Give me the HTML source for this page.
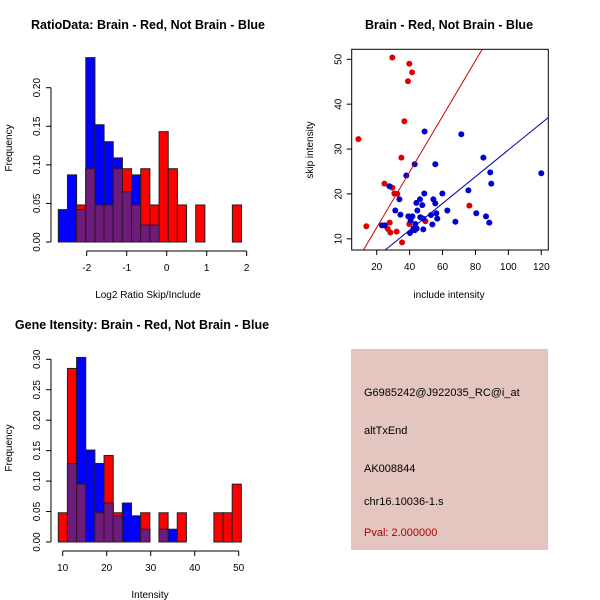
<!DOCTYPE html>
<html><head><meta charset="utf-8"><style>
body{margin:0;background:#fff}
svg{display:block;font-family:"Liberation Sans",sans-serif}
.t{font-weight:bold;font-size:12.5px}
.a{font-size:10px}
</style></head><body>
<svg id="c" width="600" height="600" xmlns="http://www.w3.org/2000/svg">
<rect width="600" height="600" fill="#fff"/>
<text class="t" x="148" y="29" text-anchor="middle">RatioData: Brain - Red, Not Brain - Blue</text>
<text class="t" x="449" y="29" text-anchor="middle">Brain - Red, Not Brain - Blue</text>
<text class="t" x="142" y="329" text-anchor="middle">Gene Itensity: Brain - Red, Not Brain - Blue</text>
<text class="a" x="148" y="298" text-anchor="middle">Log2 Ratio Skip/Include</text>
<text class="a" x="150" y="598" text-anchor="middle">Intensity</text>
<text class="a" transform="translate(12,148) rotate(-90)" text-anchor="middle">Frequency</text>
<text class="a" transform="translate(12,448) rotate(-90)" text-anchor="middle">Frequency</text>
<text class="a" x="449" y="298" text-anchor="middle">include intensity</text>
<text class="a" transform="translate(313,150) rotate(-90)" text-anchor="middle">skip intensity</text>
<g>
<rect x="351" y="349" width="197" height="201" fill="#e3c6c0"/>
<text x="364" y="396" font-size="11">G6985242@J922035_RC@i_at</text>
<text x="364" y="434" font-size="11">altTxEnd</text>
<text x="364" y="472" font-size="11">AK008844</text>
<text x="364" y="505" font-size="11">chr16.10036-1.s</text>
<text x="364" y="536" font-size="11" fill="#b00000">Pval: 2.000000</text>
</g>
</svg>
<script>
// Ratio histogram data
const ratioStart = -2.71, ratioBinW = 0.229;
const ratioBlue = [0.042,0.087,0.042,0.239,0.152,0.130,0.109,0.065,0.087,0.022,0.022,0,0,0,0,0,0,0,0,0];
const ratioRed  = [0,0,0.048,0.095,0.048,0.048,0.095,0.095,0.048,0.095,0.048,0.143,0.095,0.048,0,0.048,0,0,0,0.048];
const ratioXTicks = [-2,-1,0,1,2];
const ratioYTicks = [0,0.05,0.10,0.15,0.20];
const ratioYLabels = ["0.00","0.05","0.10","0.15","0.20"];
// Intensity histogram data
const intStart = 9.0, intBinW = 2.08;
const intBlue = [0,0.129,0.303,0.151,0.129,0.064,0.043,0.064,0.043,0.021,0,0.021,0.021,0,0,0,0,0,0,0];
const intRed  = [0.048,0.285,0.095,0,0.048,0.142,0.048,0,0,0.048,0,0.048,0,0.048,0,0,0,0.048,0.048,0.095];
const intXTicks = [10,20,30,40,50];
const intYTicks = [0,0.05,0.10,0.15,0.20,0.25,0.30];
const intYLabels = ["0.00","0.05","0.10","0.15","0.20","0.25","0.30"];
// Scatter data
const redX = [29.5,39.8,41.5,39.0,36.8,8.9,35.0,24.7,29.5,30.7,32.5,76.3,49.6,13.7,27.9,26.7,28.3,32.1,35.4,39.8];
const redY = [50.4,49.0,47.1,45.1,36.2,32.2,28.1,22.3,21.4,20.1,20.0,17.4,13.9,12.8,13.6,12.2,11.4,11.6,9.2,13.3];
const blueX = [49.1,71.4,43.1,55.6,84.8,120,89.0,89.6,38.0,27.7,33.8,48.9,59.9,75.7,46.3,54.4,44.1,55.6,47.7,31.3,44.7,62.9,34.4,80.5,86.4,39.2,41.7,46.5,48.3,53.0,56.2,56.8,40.6,67.8,88.4,23.2,24.9,43.5,53.8,42.3,44.3,48.3,43.1,40.2];
const blueY = [33.9,33.3,26.6,26.6,28.1,24.6,24.8,22.3,24.1,21.7,18.8,20.1,20.1,20.8,18.8,18.8,18.0,17.9,17.5,16.3,16.3,16.3,15.4,15.7,15.0,15.0,15.0,14.8,14.5,15.3,15.7,14.5,14.1,13.8,13.6,13.0,13.0,13.3,13.2,12.3,12.3,12.1,11.9,11.3];
const redFit = [0.1,0.62];   // intercept, slope
const blueFit = [0.0,0.298];
const scXTicks = [20,40,60,80,100,120];
const scYTicks = [10,20,30,40,50];

const svg = document.getElementById('c');
const NS = 'http://www.w3.org/2000/svg';
function mk(tag, attrs, parent){
  const e = document.createElementNS(NS, tag);
  for (const k in attrs) e.setAttribute(k, attrs[k]);
  (parent||svg).appendChild(e); return e;
}
function txt(x,y,s,anchor,rot){
  const t = mk('text',{x:x,y:y,'font-size':10,'text-anchor':anchor||'middle'});
  if (rot) t.setAttribute('transform','rotate(-90 '+x+' '+y+')');
  t.textContent = s; return t;
}

function hist(name, start, bw, blue, red, xs, x0, x1, y0, y1, ymax, xT, yT, yL, xAxisY, yAxisX){
  const X = v => x0 + (v - xs[0])/(xs[1]-xs[0])*(x1-x0);
  const Y = v => y0 - v/ymax*(y0-y1);
  const g = mk('g',{});
  
  
  for (let i=0;i<blue.length;i++){
    const a = X(start+i*bw), b = X(start+(i+1)*bw);
    const bv = blue[i], rv = red[i], mv = Math.min(bv, rv);
    if (bv>0){ const r = mk('rect',{x:a,y:Y(bv),width:b-a,height:Y(0)-Y(bv),fill:'#0000ff',stroke:'#202020','stroke-width':1},g);
        }
    if (rv>0){ const r = mk('rect',{x:a,y:Y(rv),width:b-a,height:Y(0)-Y(rv),fill:'#ff0000',stroke:'#202020','stroke-width':1},g);
        }
    if (mv>0){ const r = mk('rect',{x:a,y:Y(mv),width:b-a,height:Y(0)-Y(mv),fill:'#6e1c7c',stroke:'#3a1030','stroke-width':1},g);
        }
  }
  mk('line',{x1:X(xT[0]),x2:X(xT[xT.length-1]),y1:xAxisY,y2:xAxisY,stroke:'#000'},g);
  xT.forEach(v=>{ mk('line',{x1:X(v),x2:X(v),y1:xAxisY,y2:xAxisY+5,stroke:'#000'},g); txt(X(v),xAxisY+20,String(v)); });
  mk('line',{x1:yAxisX,x2:yAxisX,y1:Y(yT[0]),y2:Y(yT[yT.length-1]),stroke:'#000'},g);
  yT.forEach((v,i)=>{ mk('line',{x1:yAxisX,x2:yAxisX-5,y1:Y(v),y2:Y(v),stroke:'#000'},g); txt(yAxisX-11,Y(v),yL[i],'middle',true); });
}
hist('ratio-histogram', ratioStart, ratioBinW, ratioBlue, ratioRed, [-2,-1], 86.7, 126.7, 242, 87.7, 0.20, ratioXTicks, ratioYTicks, ratioYLabels, 251, 51);
hist('intensity-histogram', intStart, intBinW, intBlue, intRed, [10,20], 62.7, 106.7, 542, 359.3, 0.30, intXTicks, intYTicks, intYLabels, 551, 51);

(function(){
  const X = v => 376.7 + (v-20)*(541.3-376.7)/100;
  const Y = v => 238.8 - (v-10)*(238.8-59.3)/40;
  const g = mk('g',{});
  
  
  const L=351.7,R=548.3,T=49.3,B=250;
  const cp = mk('clipPath',{id:'sc'},g); mk('rect',{x:L,y:T,width:R-L,height:B-T},cp);
  const pts = mk('g',{'clip-path':'url(#sc)'},g);
  function fit(f,col,name){
    const xa = 0, xb = 140;
    const l = mk('line',{x1:X(xa),y1:Y(f[0]+f[1]*xa),x2:X(xb),y2:Y(f[0]+f[1]*xb),stroke:col,'stroke-width':1},pts);
     
  }
  redX.forEach((v,i)=>{ const c = mk('circle',{cx:X(v),cy:Y(redY[i]),r:3,fill:'#e00000'},pts);
      });
  blueX.forEach((v,i)=>{ const c = mk('circle',{cx:X(v),cy:Y(blueY[i]),r:3,fill:'#0000d0'},pts);
      });
  fit(redFit,'#cc0000','red-fit-line');
  fit(blueFit,'#0000aa','blue-fit-line');
  mk('rect',{x:L,y:T,width:R-L,height:B-T,fill:'none',stroke:'#000'},g);
  scXTicks.forEach(v=>{ mk('line',{x1:X(v),x2:X(v),y1:B,y2:B+5,stroke:'#000'},g); txt(X(v),B+20,String(v)); });
  scYTicks.forEach(v=>{ mk('line',{x1:L,x2:L-5,y1:Y(v),y2:Y(v),stroke:'#000'},g); txt(L-10,Y(v),String(v),'middle',true); });
})();
</script>
</body></html>
